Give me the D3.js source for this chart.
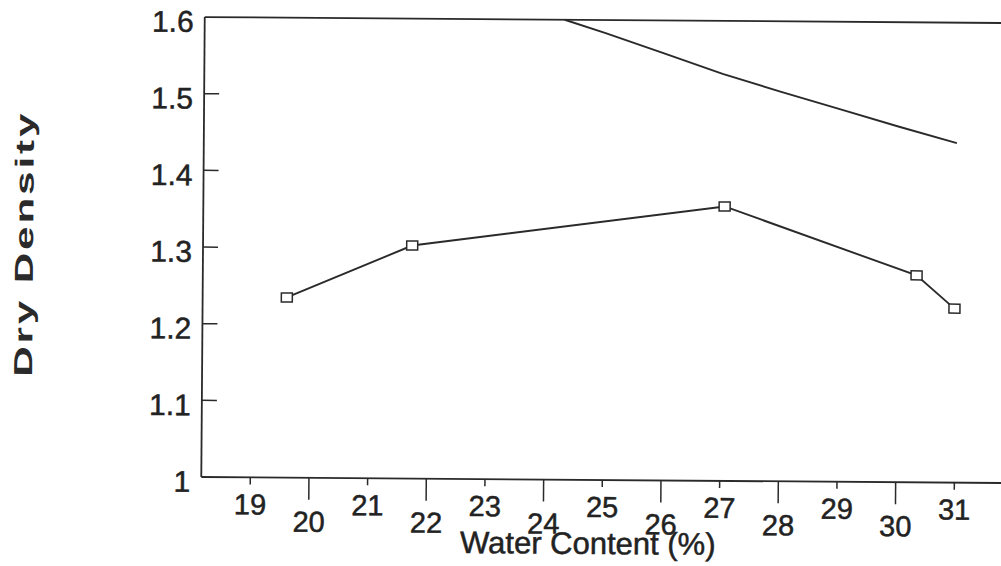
<!DOCTYPE html>
<html>
<head>
<meta charset="utf-8">
<script src="https://cdn.jsdelivr.net/npm/d3@7"></script>
<style>
  html, body { margin: 0; padding: 0; background: #fff; }
  svg { display: block; font-family: "Liberation Sans", Arial, sans-serif; }
</style>
</head>
<body>
<svg width="1001" height="566"></svg>
<script>
// measured series: water content (%) vs dry density
const waterContent = [19.6, 21.73, 27.05, 30.33, 30.98];
const dryDensity = [1.235, 1.304, 1.358, 1.27, 1.227];

// saturation line (no markers)
const zavWater = [24.3, 25, 26, 27, 28, 29, 30, 31];
const zavDensity = [1.6, 1.583, 1.557, 1.531, 1.508, 1.486, 1.464, 1.443];

const xTicks = [19, 20, 21, 22, 23, 24, 25, 26, 27, 28, 29, 30, 31];
const yTicks = [1, 1.1, 1.2, 1.3, 1.4, 1.5, 1.6];

const svg = d3.select("svg");
const ink = "#2a2a2a";

const x = d3.scaleLinear().domain([18.165, 31.8]).range([203, 1003]);
const y = d3.scaleLinear().domain([1, 1.6]).range([480, 20]);

// the scan is tilted a little clockwise
const g = svg.append("g").attr("transform", "rotate(0.43,600,250)");

// frame: left axis, top edge, bottom axis
g.append("line")
  .attr("x1", x.range()[0]).attr("x2", x.range()[0])
  .attr("y1", y(1)).attr("y2", y(1.6))
  .attr("stroke", ink).attr("stroke-width", 1.8);
g.append("line")
  .attr("x1", x.range()[0]).attr("x2", x.range()[1])
  .attr("y1", y(1.6)).attr("y2", y(1.6))
  .attr("stroke", ink).attr("stroke-width", 1.8);
g.append("line")
  .attr("x1", x.range()[0]).attr("x2", x.range()[1])
  .attr("y1", y(1)).attr("y2", y(1))
  .attr("stroke", ink).attr("stroke-width", 1.8);

// y ticks point inward
g.selectAll(".ytick")
  .data(yTicks.filter((d) => d > 1 && d < 1.6))
  .enter()
  .append("line")
  .attr("x1", x.range()[0]).attr("x2", x.range()[0] + 15)
  .attr("y1", (d) => y(d)).attr("y2", (d) => y(d))
  .attr("stroke", ink).attr("stroke-width", 1.5);

g.selectAll(".ylab")
  .data(yTicks)
  .enter()
  .append("text")
  .attr("x", 192)
  .attr("y", (d) => y(d) + 15)
  .attr("text-anchor", "end")
  .attr("font-size", 30)
  .attr("fill", "#222")
  .attr("stroke", "#222")
  .attr("stroke-width", 0.5)
  .text((d) => (d === 1 ? "1" : d.toFixed(1)));

// x ticks alternate long / short, labels staggered
g.selectAll(".xtick")
  .data(xTicks)
  .enter()
  .append("line")
  .attr("x1", (d) => x(d)).attr("x2", (d) => x(d))
  .attr("y1", y(1))
  .attr("y2", (d) => y(1) + (d % 2 === 0 ? 22 : 7))
  .attr("stroke", ink).attr("stroke-width", 1.5);

g.selectAll(".xlab")
  .data(xTicks)
  .enter()
  .append("text")
  .attr("x", (d) => x(d))
  .attr("y", (d) => y(1) + (d % 2 === 0 ? 54 : 37))
  .attr("text-anchor", "middle")
  .attr("font-size", 29)
  .attr("fill", "#222")
  .attr("stroke", "#222")
  .attr("stroke-width", 0.5)
  .text((d) => d);

g.append("text")
  .attr("x", 590)
  .attr("y", 554)
  .attr("text-anchor", "middle")
  .attr("font-size", 31)
  .attr("fill", "#222")
  .attr("stroke", "#222")
  .attr("stroke-width", 0.5)
  .text("Water Content (%)");

// y axis title, wide bold lettering
g.append("text")
  .attr("transform", "translate(33,248) rotate(-90) scale(1.62,1)")
  .attr("text-anchor", "middle")
  .attr("font-size", 26)
  .attr("font-weight", "bold")
  .attr("letter-spacing", 1.8)
  .attr("fill", "#2a2a2a")
  .text("Dry Density");

const line = d3.line().x((d) => x(d[0])).y((d) => y(d[1]));

g.append("path")
  .datum(d3.zip(zavWater, zavDensity))
  .attr("d", line)
  .attr("fill", "none")
  .attr("stroke", ink)
  .attr("stroke-width", 1.9);

const pts = d3.zip(waterContent, dryDensity);
g.append("path")
  .datum(pts)
  .attr("d", line)
  .attr("fill", "none")
  .attr("stroke", ink)
  .attr("stroke-width", 1.9);

g.selectAll(".mark")
  .data(pts)
  .enter()
  .append("rect")
  .attr("x", (d) => x(d[0]) - 5.5)
  .attr("y", (d) => y(d[1]) - 4.5)
  .attr("width", 11)
  .attr("height", 9)
  .attr("fill", "#fff")
  .attr("stroke", ink)
  .attr("stroke-width", 1.5);
</script>
</body>
</html>
